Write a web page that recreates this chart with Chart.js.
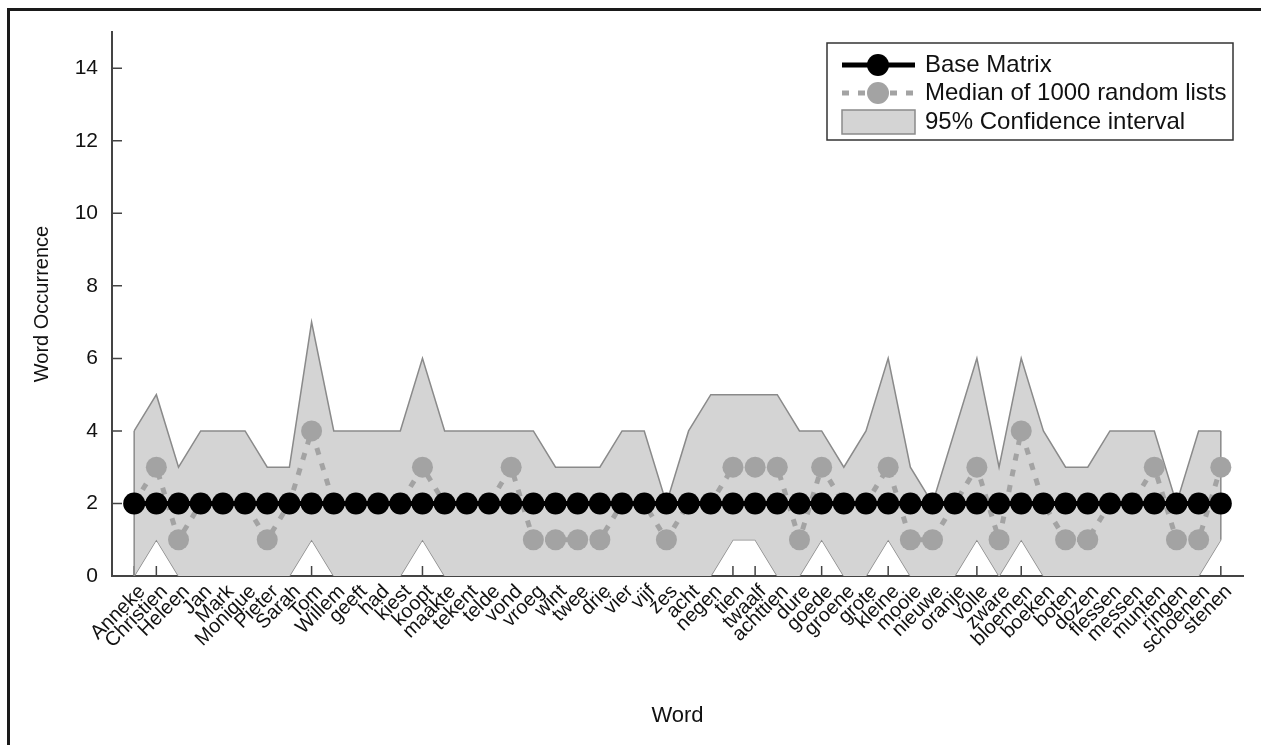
<!DOCTYPE html>
<html>
<head>
<meta charset="utf-8">
<script src="https://cdn.jsdelivr.net/npm/chart.js@4/dist/chart.umd.min.js"></script>
<style>
    html, body { margin: 0; padding: 0; background: #fff; overflow: hidden; }
    #wrap { position: relative; width: 1261px; height: 745px; }
    #frame { position: absolute; left: 7px; top: 8px; width: 1300px; height: 800px;
             border-top: 3px solid #1a1a1a; border-left: 3px solid #1a1a1a; }
    canvas { position: absolute; left: 0; top: 0; }
</style>
</head>
<body>
<div id="wrap">
    <div id="frame"></div>
    <canvas id="chart" width="1261" height="745"></canvas>
</div>
<script>
const words = ['Anneke', 'Christien', 'Heleen', 'Jan', 'Mark', 'Monique', 'Pieter', 'Sarah', 'Tom', 'Willem',
    'geeft', 'had', 'kiest', 'koopt', 'maakte', 'tekent', 'telde', 'vond', 'vroeg', 'wint',
    'twee', 'drie', 'vier', 'vijf', 'zes', 'acht', 'negen', 'tien', 'twaalf', 'achttien',
    'dure', 'goede', 'groene', 'grote', 'kleine', 'mooie', 'nieuwe', 'oranje', 'volle', 'zware',
    'bloemen', 'boeken', 'boten', 'dozen', 'flessen', 'messen', 'munten', 'ringen', 'schoenen', 'stenen'];

const baseMatrix = [2, 2, 2, 2, 2, 2, 2, 2, 2, 2,
    2, 2, 2, 2, 2, 2, 2, 2, 2, 2,
    2, 2, 2, 2, 2, 2, 2, 2, 2, 2,
    2, 2, 2, 2, 2, 2, 2, 2, 2, 2,
    2, 2, 2, 2, 2, 2, 2, 2, 2, 2];

const medianRandom = [2, 3, 1, 2, 2, 2, 1, 2, 4, 2,
    2, 2, 2, 3, 2, 2, 2, 3, 1, 1,
    1, 1, 2, 2, 1, 2, 2, 3, 3, 3,
    1, 3, 2, 2, 3, 1, 1, 2, 3, 1,
    4, 2, 1, 1, 2, 2, 3, 1, 1, 3];

const ciUpper = [4, 5, 3, 4, 4, 4, 3, 3, 7, 4,
    4, 4, 4, 6, 4, 4, 4, 4, 4, 3,
    3, 3, 4, 4, 2, 4, 5, 5, 5, 5,
    4, 4, 3, 4, 6, 3, 2, 4, 6, 3,
    6, 4, 3, 3, 4, 4, 4, 2, 4, 4];

const ciLower = [0, 1, 0, 0, 0, 0, 0, 0, 1, 0,
    0, 0, 0, 1, 0, 0, 0, 0, 0, 0,
    0, 0, 0, 0, 0, 0, 0, 1, 1, 0,
    0, 1, 0, 0, 1, 0, 0, 0, 1, 0,
    1, 0, 0, 0, 0, 0, 0, 0, 0, 1];

const yTicks = [0, 2, 4, 6, 8, 10, 12, 14];

const FONT = '"Liberation Sans", Arial, Helvetica, sans-serif';
const AXIS = '#444';
const BAND = '#d4d4d4';
const BAND_EDGE = '#8a8a8a';
const MEDIAN = '#a3a3a3';

const xy = arr => arr.map((v, i) => ({ x: i, y: v }));

// inward tick marks, drawn under the data like the original
const innerTicks = {
    id: 'innerTicks',
    beforeDatasetsDraw(chart) {
        const { ctx, chartArea: a, scales: { x, y } } = chart;
        ctx.save();
        ctx.strokeStyle = AXIS;
        ctx.lineWidth = 1.5;
        ctx.beginPath();
        words.forEach((w, i) => {
            const px = x.getPixelForValue(i);
            ctx.moveTo(px, a.bottom);
            ctx.lineTo(px, a.bottom - 10);
        });
        yTicks.forEach(t => {
            const py = y.getPixelForValue(t);
            ctx.moveTo(a.left, py);
            ctx.lineTo(a.left + 10, py);
        });
        ctx.stroke();
        ctx.restore();
    },
    afterDatasetDraw(chart, args) {
        // close the band at both ends
        if (args.index !== 3) return;
        const { ctx, scales: { x, y } } = chart;
        const last = words.length - 1;
        ctx.save();
        ctx.strokeStyle = BAND_EDGE;
        ctx.lineWidth = 1.5;
        ctx.beginPath();
        [0, last].forEach(i => {
            const px = x.getPixelForValue(i);
            ctx.moveTo(px, y.getPixelForValue(ciLower[i]));
            ctx.lineTo(px, y.getPixelForValue(ciUpper[i]));
        });
        ctx.stroke();
        ctx.restore();
    }
};

const boxLegend = {
    id: 'boxLegend',
    afterDraw(chart) {
        const { ctx } = chart;
        const x0 = 827, y0 = 43, w = 406, h = 97;
        ctx.save();
        ctx.fillStyle = '#fff';
        ctx.fillRect(x0, y0, w, h);
        ctx.strokeStyle = '#333';
        ctx.lineWidth = 1.5;
        ctx.strokeRect(x0, y0, w, h);

        const sx = 842, ex = 915, cx = 878;
        const rows = [65, 93, 122];

        ctx.strokeStyle = '#000';
        ctx.lineWidth = 5;
        ctx.beginPath(); ctx.moveTo(sx, rows[0]); ctx.lineTo(ex, rows[0]); ctx.stroke();
        ctx.fillStyle = '#000';
        ctx.beginPath(); ctx.arc(cx, rows[0], 11, 0, Math.PI * 2); ctx.fill();

        ctx.strokeStyle = MEDIAN;
        ctx.setLineDash([7, 9]);
        ctx.beginPath(); ctx.moveTo(sx, rows[1]); ctx.lineTo(ex, rows[1]); ctx.stroke();
        ctx.setLineDash([]);
        ctx.fillStyle = MEDIAN;
        ctx.beginPath(); ctx.arc(cx, rows[1], 11, 0, Math.PI * 2); ctx.fill();

        ctx.fillStyle = BAND;
        ctx.fillRect(sx, rows[2] - 12, ex - sx, 24);
        ctx.strokeStyle = BAND_EDGE;
        ctx.lineWidth = 1.5;
        ctx.strokeRect(sx, rows[2] - 12, ex - sx, 24);

        ctx.fillStyle = '#111';
        ctx.font = '24px ' + FONT;
        ctx.textBaseline = 'middle';
        ctx.fillText('Base Matrix', 925, rows[0]);
        ctx.fillText('Median of 1000 random lists', 925, rows[1]);
        ctx.fillText('95% Confidence interval', 925, rows[2]);
        ctx.restore();
    }
};

new Chart(document.getElementById('chart'), {
    type: 'line',
    data: {
        datasets: [
            {
                label: 'Base Matrix',
                data: xy(baseMatrix),
                borderColor: '#000',
                backgroundColor: '#000',
                borderWidth: 5,
                pointRadius: 11,
                pointBorderWidth: 0,
                order: 0
            },
            {
                label: 'Median of 1000 random lists',
                data: xy(medianRandom),
                borderColor: MEDIAN,
                backgroundColor: MEDIAN,
                borderWidth: 5,
                borderDash: [7, 9],
                pointRadius: 10.5,
                pointBorderWidth: 0,
                order: 1
            },
            {
                label: 'lower',
                data: xy(ciLower),
                borderColor: BAND_EDGE,
                borderWidth: 1.5,
                pointRadius: 0,
                fill: false,
                order: 3
            },
            {
                label: '95% Confidence interval',
                data: xy(ciUpper),
                borderColor: BAND_EDGE,
                backgroundColor: BAND,
                borderWidth: 1.5,
                pointRadius: 0,
                fill: '-1',
                order: 2
            }
        ]
    },
    options: {
        responsive: false,
        animation: false,
        layout: { padding: { left: 0, top: 32, right: 18, bottom: 0 } },
        plugins: {
            legend: { display: false },
            tooltip: { enabled: false }
        },
        scales: {
            x: {
                type: 'linear',
                min: -1,
                max: 50,
                afterBuildTicks: s => { s.ticks = words.map((w, i) => ({ value: i })); },
                afterFit: s => { s.height = 169; },
                grid: { display: true, drawOnChartArea: false, drawTicks: false },
                border: { display: true, color: AXIS, width: 2 },
                ticks: {
                    autoSkip: false,
                    minRotation: 45,
                    maxRotation: 45,
                    padding: 4,
                    labelOffset: 8,
                    color: '#111',
                    font: { family: FONT, size: 20 },
                    callback: v => words[v] || ''
                },
                title: {
                    display: true,
                    text: 'Word',
                    color: '#111',
                    font: { family: FONT, size: 22 },
                    padding: { top: 0, bottom: 16 }
                }
            },
            y: {
                min: 0,
                max: 15,
                afterBuildTicks: s => { s.ticks = yTicks.map(v => ({ value: v })); },
                afterFit: s => { s.width = 112; },
                grid: { display: true, drawOnChartArea: false, drawTicks: false },
                border: { display: true, color: AXIS, width: 2 },
                ticks: {
                    padding: 14,
                    color: '#111',
                    font: { family: FONT, size: 21 }
                },
                title: {
                    display: true,
                    text: 'Word Occurrence',
                    color: '#111',
                    font: { family: FONT, size: 20 },
                    padding: { top: 30, bottom: 0 }
                }
            }
        }
    },
    plugins: [innerTicks, boxLegend]
});
</script>
</body>
</html>
